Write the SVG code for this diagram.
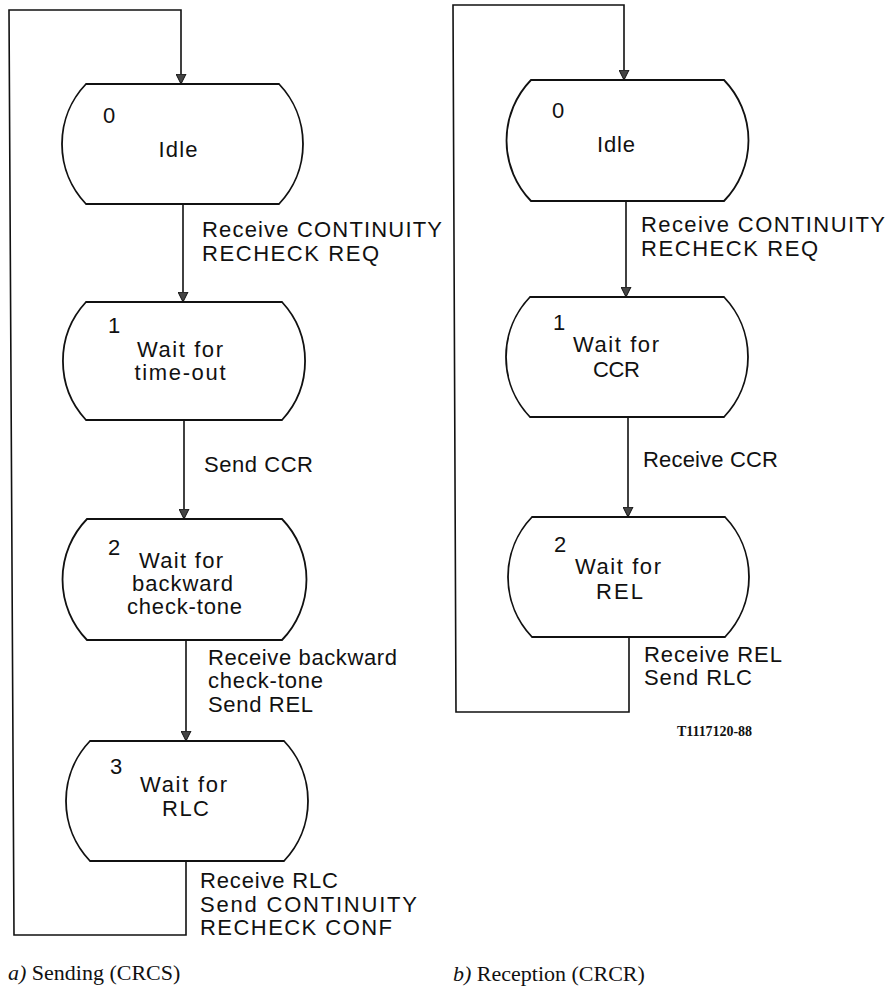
<svg xmlns="http://www.w3.org/2000/svg" width="889" height="996" viewBox="0 0 889 996">
<style>
.node{fill:#fff;stroke:#111;stroke-width:1.8}
.edge{fill:none;stroke:#111;stroke-width:1.6}
text{font-family:"Liberation Sans",Arial,sans-serif;font-size:22px;fill:#111}
.c{text-anchor:middle}
.cap{font-family:"Liberation Serif","Times New Roman",serif;font-size:22px}
.it{font-style:italic}
.tag{font-family:"Liberation Serif","Times New Roman",serif;font-size:14px;font-weight:bold}
</style>
<defs>
<marker id="arr" markerUnits="userSpaceOnUse" markerWidth="10" markerHeight="11" refX="10" refY="5" orient="auto" viewBox="0 0 10 10">
<path d="M0,0 L10,5 L0,10 Z" fill="#444" stroke="#111" stroke-width="1"/>
</marker>
</defs>
<g id="connectors">
<polyline class="edge" points="186,861 186,935 14,935 9,10 181,10 181,84" marker-end="url(#arr)"/>
<line class="edge" x1="183" y1="204" x2="183" y2="302" marker-end="url(#arr)"/>
<line class="edge" x1="184" y1="420" x2="184" y2="519" marker-end="url(#arr)"/>
<line class="edge" x1="186" y1="640" x2="186" y2="741" marker-end="url(#arr)"/>
<polyline class="edge" points="629,637 629,712 456,712 453,5 624,5 624,80" marker-end="url(#arr)"/>
<line class="edge" x1="626" y1="201" x2="626" y2="297" marker-end="url(#arr)"/>
<line class="edge" x1="628" y1="417" x2="628" y2="517" marker-end="url(#arr)"/>
<text x="202" y="237" textLength="240">Receive CONTINUITY</text>
<text x="202" y="261" textLength="177">RECHECK REQ</text>
<text x="204" y="472" textLength="109">Send CCR</text>
<text x="208" y="665" textLength="189">Receive backward</text>
<text x="208" y="688" textLength="115">check-tone</text>
<text x="208" y="712" textLength="105">Send REL</text>
<text x="200" y="888" textLength="138">Receive RLC</text>
<text x="200" y="912" textLength="217">Send CONTINUITY</text>
<text x="200" y="935" textLength="192">RECHECK CONF</text>
<text x="641" y="232" textLength="244">Receive CONTINUITY</text>
<text x="641" y="256" textLength="177">RECHECK REQ</text>
<text x="643" y="467" textLength="135">Receive CCR</text>
<text x="644" y="662" textLength="138">Receive REL</text>
<text x="644" y="685" textLength="108">Send RLC</text>
</g>
<g id="a0">
<path class="node" d="M86,84 H279 A87,87 0 0 1 279,204 H86 A87,87 0 0 1 86,84 Z"/>
<text x="103" y="123">0</text>
<text class="c" x="178" y="157" textLength="39">Idle</text>
</g>
<g id="a1">
<path class="node" d="M86,302 H282 A87,87 0 0 1 282,420 H86 A87,87 0 0 1 86,302 Z"/>
<text x="108" y="333">1</text>
<text class="c" x="180" y="357" textLength="86">Wait for</text>
<text class="c" x="180" y="380" textLength="91">time-out</text>
</g>
<g id="a2">
<path class="node" d="M87,519 H282 A87,87 0 0 1 282,640 H87 A87,87 0 0 1 87,519 Z"/>
<text x="108" y="555">2</text>
<text class="c" x="181" y="568" textLength="84">Wait for</text>
<text class="c" x="182.5" y="591" textLength="101">backward</text>
<text class="c" x="184.5" y="614" textLength="115">check-tone</text>
</g>
<g id="a3">
<path class="node" d="M90,741 H284 A87,87 0 0 1 284,861 H90 A87,87 0 0 1 90,741 Z"/>
<text x="110" y="774">3</text>
<text class="c" x="183.5" y="792" textLength="87">Wait for</text>
<text class="c" x="185.5" y="816" textLength="47">RLC</text>
</g>
<g id="b0">
<path class="node" d="M531,80 H724 A87,87 0 0 1 724,201 H531 A87,87 0 0 1 531,80 Z"/>
<text x="552" y="118">0</text>
<text class="c" x="616" y="152" textLength="38">Idle</text>
</g>
<g id="b1">
<path class="node" d="M530,297 H724 A87,87 0 0 1 724,417 H530 A87,87 0 0 1 530,297 Z"/>
<text x="553" y="330">1</text>
<text class="c" x="616" y="352" textLength="86">Wait for</text>
<text class="c" x="616.5" y="377" textLength="47">CCR</text>
</g>
<g id="b2">
<path class="node" d="M532,517 H725 A87,87 0 0 1 725,637 H532 A87,87 0 0 1 532,517 Z"/>
<text x="554" y="552">2</text>
<text class="c" x="618" y="574" textLength="86">Wait for</text>
<text class="c" x="619.5" y="599" textLength="47">REL</text>
</g>
<g id="captions">
<text class="cap" x="8" y="980"><tspan class="it">a)</tspan> Sending (CRCS)</text>
<text class="cap" x="453" y="981"><tspan class="it">b)</tspan> Reception (CRCR)</text>
<text class="tag" x="677" y="736" textLength="75">T1117120-88</text>
</g>
</svg>
